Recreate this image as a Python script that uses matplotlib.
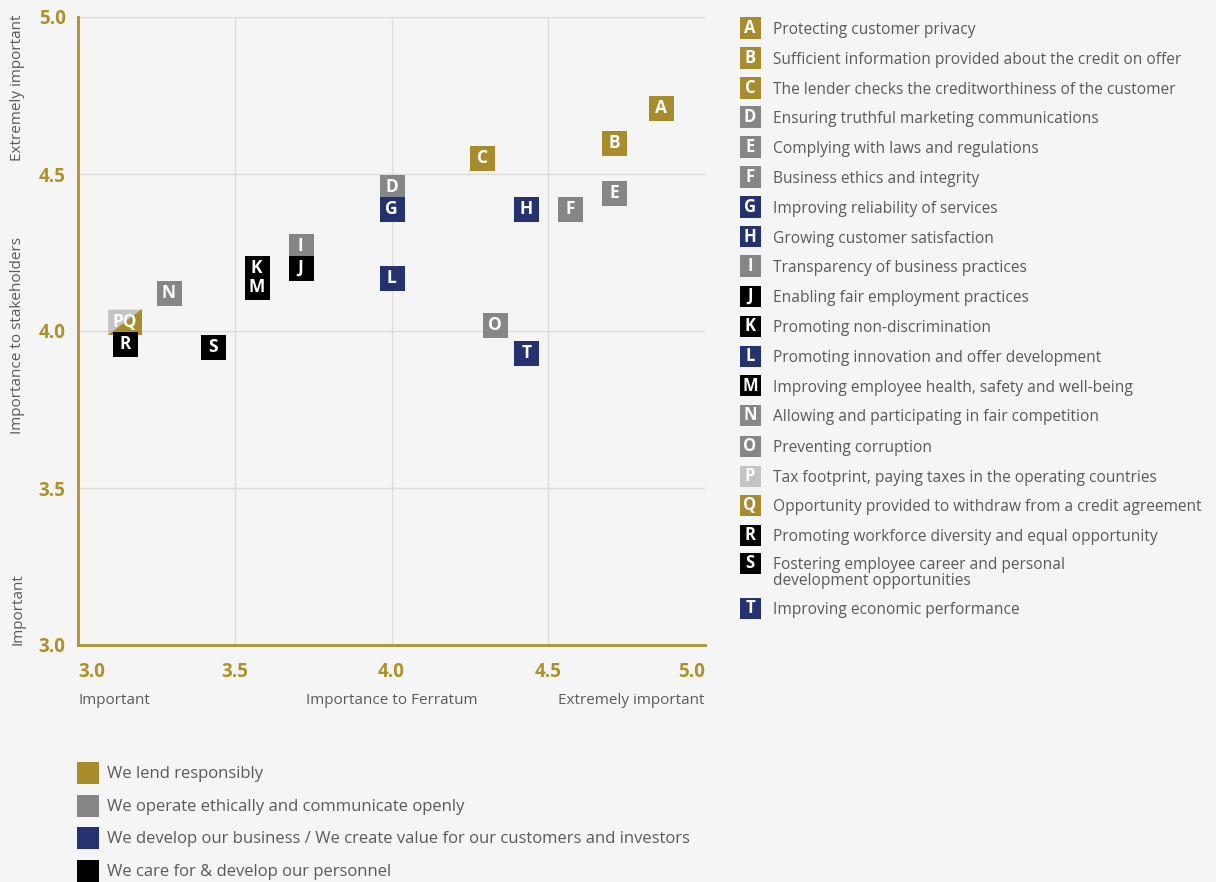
import numpy as np
import matplotlib
matplotlib.use("Agg")
import matplotlib.pyplot as plt
from matplotlib.patches import Rectangle
from matplotlib.path import Path
from matplotlib.transforms import ScaledTranslation

plt.rcParams['font.family'] = ['Open Sans', 'DejaVu Sans']

# data
codes = list("ABCDEFGHIJKLMNOPQRST")
importance_ferratum = [4.86, 4.71, 4.29, 4.00, 4.71, 4.57, 4.00, 4.43, 3.71, 3.71,
                       3.57, 4.00, 3.57, 3.29, 4.33, 3.15, 3.15, 3.15, 3.43, 4.43]
importance_stakeholders = [4.71, 4.60, 4.55, 4.46, 4.44, 4.39, 4.39, 4.39, 4.27, 4.20,
                           4.20, 4.17, 4.14, 4.12, 4.02, 4.03, 4.03, 3.96, 3.95, 3.93]
groups = ["lend", "lend", "lend", "ethic", "ethic", "ethic", "dev", "dev", "ethic", "care",
          "care", "dev", "care", "ethic", "ethic", "tax", "lend", "care", "care", "dev"]
topics = [
    "Protecting customer privacy",
    "Sufficient information provided about the credit on offer",
    "The lender checks the creditworthiness of the customer",
    "Ensuring truthful marketing communications",
    "Complying with laws and regulations",
    "Business ethics and integrity",
    "Improving reliability of services",
    "Growing customer satisfaction",
    "Transparency of business practices",
    "Enabling fair employment practices",
    "Promoting non-discrimination",
    "Promoting innovation and offer development",
    "Improving employee health, safety and well-being",
    "Allowing and participating in fair competition",
    "Preventing corruption",
    "Tax footprint, paying taxes in the operating countries",
    "Opportunity provided to withdraw from a credit agreement",
    "Promoting workforce diversity and equal opportunity",
    "Fostering employee career and personal\ndevelopment opportunities",
    "Improving economic performance",
]
group_names = ["lend", "ethic", "dev", "care"]
group_labels = [
    "We lend responsibly",
    "We operate ethically and communicate openly",
    "We develop our business / We create value for our customers and investors",
    "We care for & develop our personnel",
]
ticks = [3.0, 3.5, 4.0, 4.5, 5.0]

colors = {"lend": "#A88C2C", "ethic": "#868686", "dev": "#263270",
          "care": "#000000", "tax": "#C4C4C4"}
GOLD = "#AD922A"
BG = "#F5F5F5"
TXT = "#5A5A5A"

W, H = 1216, 882
fig = plt.figure(figsize=(W / 100, H / 100), dpi=100, facecolor=BG)
ax = fig.add_axes([78 / W, 1 - 645 / H, (705 - 78) / W, (645 - 17) / H])
ax.set_facecolor(BG)
ax.set_xlim(3, 5)
ax.set_ylim(3, 5)
ax.set_xticks(ticks)
ax.set_yticks(ticks)
ax.grid(True, color="#DCDCDC", linewidth=1)
ax.set_axisbelow(True)
for s in ["top", "right"]:
    ax.spines[s].set_visible(False)
for s in ["left", "bottom"]:
    ax.spines[s].set_color(GOLD)
    ax.spines[s].set_linewidth(2)
ax.tick_params(length=0)
ax.set_xticklabels([f"{t:.1f}" for t in ticks], color=GOLD, fontsize=13.5, fontweight="bold")
ax.set_yticklabels([f"{t:.1f}" for t in ticks], color=GOLD, fontsize=13.5, fontweight="bold")
xl = ax.get_xticklabels()
xl[0].set_ha("left")
xl[-1].set_ha("right")
xl[-1].set_transform(xl[-1].get_transform() + ScaledTranslation(-0.04, 0, fig.dpi_scale_trans))
ax.tick_params(axis="y", pad=9)
ax.tick_params(axis="x", pad=12)

# markers: shared positions become split rectangles
tri_ul = Path([(-1.36, -1), (1.36, 1), (-1.36, 1), (-1.36, -1)], closed=True)
tri_lr = Path([(-1.36, -1), (1.36, -1), (1.36, 1), (-1.36, -1)], closed=True)
pts = {}
for i, c in enumerate(codes):
    key = (importance_ferratum[i], importance_stakeholders[i])
    pts.setdefault(key, []).append(i)

for (xv, yv), idx in pts.items():
    if len(idx) == 1:
        i = idx[0]
        ax.scatter([xv], [yv], marker="s", s=18 ** 2, color=colors[groups[i]],
                   linewidths=0, zorder=3)
    else:
        for i, m in zip(idx, [tri_ul, tri_lr]):
            ax.scatter([xv], [yv], marker=m, s=25 ** 2, color=colors[groups[i]],
                       linewidths=0, zorder=3)
    ax.annotate("".join(codes[i] for i in idx), (xv, yv), ha="center", va="center",
                color="white", fontsize=12.5, fontweight="bold", zorder=4)

# axis descriptions
def ftext(px, py, s, **kw):
    fig.text(px / W, 1 - py / H, s, **kw)

ftext(78, 700, "Important", ha="left", va="center", fontsize=11, color=TXT)
ftext(392, 700, "Importance to Ferratum", ha="center", va="center", fontsize=11, color=TXT)
ftext(705, 700, "Extremely important", ha="right", va="center", fontsize=11, color=TXT)
ftext(18, 88, "Extremely important", ha="center", va="center", rotation=90, fontsize=11, color=TXT)
ftext(18, 336, "Importance to stakeholders", ha="center", va="center", rotation=90, fontsize=11, color=TXT)
ftext(18, 609, "Important", ha="center", va="center", rotation=90, fontsize=11, color=TXT)

# right-hand key
def box(cx, cy, size, color):
    fig.add_artist(Rectangle(((cx - size / 2) / W, 1 - (cy + size / 2) / H),
                             size / W, size / H, transform=fig.transFigure,
                             facecolor=color, edgecolor="none"))

row_y = [28, 58, 88, 117, 147, 177, 207, 237, 266, 296,
         326, 356, 386, 415, 446, 476, 505, 535, 563, 608]
for i, c in enumerate(codes):
    box(750, row_y[i], 21, colors[groups[i]])
    ftext(750, row_y[i], c, ha="center", va="center", color="white",
          fontsize=12, fontweight="bold")
    ftext(773, row_y[i] - 6, topics[i], ha="left", va="top", fontsize=11.2,
          color=TXT, linespacing=1.0)

# bottom key
for k, (g, lab) in enumerate(zip(group_names, group_labels)):
    cy = 773 + k * 32.7
    box(88, cy, 22, colors[g])
    ftext(107, cy + 1, lab, ha="left", va="center", fontsize=12, color=TXT)

fig.savefig("out.png", dpi=100, facecolor=BG)
